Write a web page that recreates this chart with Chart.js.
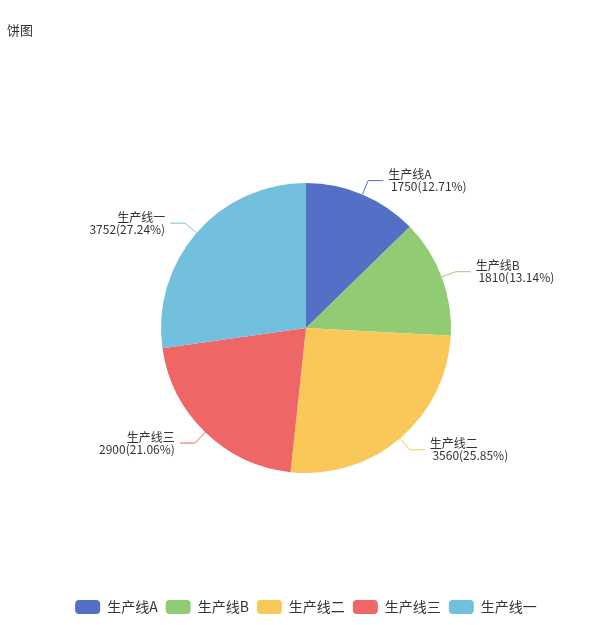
<!DOCTYPE html>
<html>
<head>
<meta charset="utf-8">
<script src="https://cdn.jsdelivr.net/npm/chart.js@4/dist/chart.umd.min.js"></script>
<style>
  html, body { margin: 0; padding: 0; background: #fff; overflow: hidden; }
  #wrap { width: 601px; height: 625px; position: relative; }
</style>
</head>
<body>
<div id="wrap"><canvas id="myChart"></canvas></div>
<script>
const titleText = '饼图'
const categories = ['生产线A', '生产线B', '生产线二', '生产线三', '生产线一']
const values = [1750, 1810, 3560, 2900, 3752]
const colors = ['#5470c6', '#91cc75', '#fac858', '#ee6666', '#73c0de']

const fontFamily = '"Microsoft YaHei", "Noto Sans CJK SC", sans-serif'
Chart.defaults.font.family = fontFamily
Chart.defaults.color = '#333'

const total = values.reduce((a, b) => a + b, 0)

// title in the top-left corner
const titlePlugin = {
  id: 'cornerTitle',
  afterDraw(chart) {
    const ctx = chart.ctx
    ctx.save()
    ctx.font = '13px ' + fontFamily
    ctx.fillStyle = '#333'
    ctx.textAlign = 'left'
    ctx.textBaseline = 'middle'
    ctx.fillText(titleText, 7, 30)
    ctx.restore()
  }
}

// outside labels with leader lines, like echarts
const outLabels = {
  id: 'outLabels',
  afterDatasetsDraw(chart) {
    const ctx = chart.ctx
    const meta = chart.getDatasetMeta(0)
    meta.data.forEach((arc, i) => {
      const p = arc.getProps(['x', 'y', 'startAngle', 'endAngle', 'outerRadius'], true)
      const mid = (p.startAngle + p.endAngle) / 2
      const cos = Math.cos(mid), sin = Math.sin(mid)
      const x1 = p.x + p.outerRadius * cos, y1 = p.y + p.outerRadius * sin
      const x2 = p.x + (p.outerRadius + 15) * cos, y2 = p.y + (p.outerRadius + 15) * sin
      const right = cos >= 0
      const x3 = x2 + (right ? 15 : -15)

      ctx.save()
      ctx.strokeStyle = colors[i]
      ctx.lineWidth = 1
      ctx.beginPath()
      ctx.moveTo(x1, y1)
      ctx.lineTo(x2, y2)
      ctx.lineTo(x3, y2)
      ctx.stroke()

      const pct = (values[i] / total * 100).toFixed(2)
      ctx.font = '12px ' + fontFamily
      ctx.fillStyle = '#333'
      ctx.textBaseline = 'middle'
      ctx.textAlign = right ? 'left' : 'right'
      const tx = x3 + (right ? 5 : -5)
      ctx.fillText(categories[i], tx, y2 - 6)
      ctx.fillText(' ' + values[i] + '(' + pct + '%)', tx, y2 + 6)
      ctx.restore()
    })
  }
}

new Chart(document.getElementById('myChart'), {
  type: 'pie',
  data: {
    labels: categories,
    datasets: [{
      data: values,
      backgroundColor: colors,
      borderWidth: 0,
      borderColor: '#fff',
      radius: 145
    }]
  },
  options: {
    responsive: true,
    maintainAspectRatio: false,
    animation: false,
    layout: { padding: { left: 11, right: 0, top: 64, bottom: 1 } },
    plugins: {
      legend: {
        position: 'bottom',
        labels: {
          boxWidth: 25,
          boxHeight: 14,
          useBorderRadius: true,
          borderRadius: 4,
          padding: 8,
          color: '#333',
          font: { size: 14 }
        }
      },
      tooltip: { enabled: false }
    }
  },
  plugins: [titlePlugin, outLabels]
})
</script>
</body>
</html>
